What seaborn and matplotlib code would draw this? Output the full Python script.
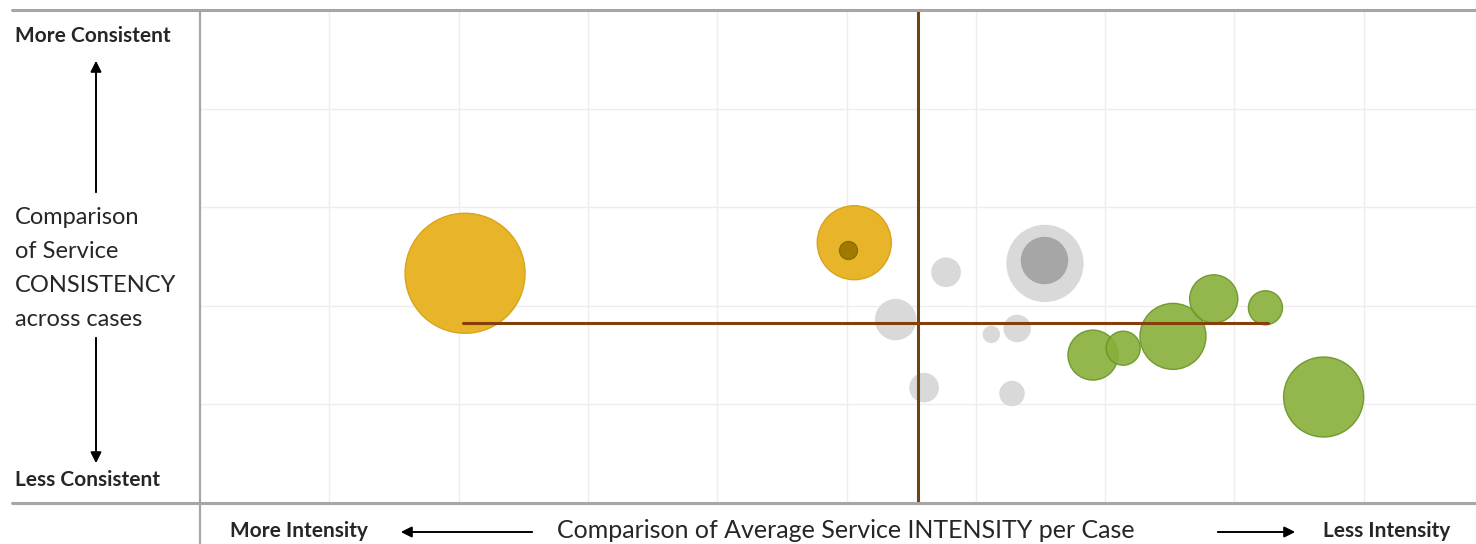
import pandas as pd
import matplotlib.pyplot as plt
import seaborn as sns
from matplotlib.lines import Line2D

# Bubble data (x = intensity, y = consistency, bubble = relative area)
gold_x = [2.05, 5.06]
gold_y = [2.33, 2.64]
gold_b = [36.0, 13.7]

inner_x = [5.01]
inner_y = [2.57]
inner_b = [0.8]

gray_x = [5.77, 5.38, 6.12, 6.32, 5.60, 6.28, 6.535]
gray_y = [2.34, 1.86, 1.71, 1.77, 1.17, 1.11, 2.43]
gray_b = [2.0, 4.0, 0.64, 1.7, 2.0, 1.45, 14.4]

darkgray_x = [6.527]
darkgray_y = [2.46]
darkgray_b = [5.3]

green_x = [6.906, 7.14, 7.525, 7.84, 8.24, 8.69]
green_y = [1.50, 1.57, 1.69, 2.07, 1.98, 1.075]
green_b = [6.25, 2.9, 10.9, 5.8, 2.9, 16.0]

avg_intensity = 5.553
avg_consistency = 1.826
avg_range = [2.034, 8.26]

y_title_lines = ["Comparison", "of Service", "CONSISTENCY", "across cases"]

W, H = 1476, 544

sns.set_theme(style="white")
plt.rcParams["font.family"] = ["Lato", "DejaVu Sans"]

fig = plt.figure(figsize=(W / 100, H / 100), dpi=100)
ax = fig.add_axes([200 / W, 41 / H, 1276 / W, 493 / H])

all_b = gold_b + inner_b + gray_b + darkgray_b + green_b
bmin, bmax = min(all_b), max(all_b)
k = 207.36  # value -> points^2


def bubbles(xs, ys, bs, color, edge, alpha, z):
    df = pd.DataFrame({"x": xs, "y": ys, "bubble": bs})
    sns.scatterplot(data=df, x="x", y="y", size="bubble",
                    sizes=(bmin * k, bmax * k), size_norm=(bmin, bmax),
                    color=color, edgecolor=edge, linewidth=1.0,
                    alpha=alpha, legend=False, ax=ax, zorder=z)


bubbles(gold_x, gold_y, gold_b, "#E8B52A", "#D8A41C", 1.0, 3)
bubbles(inner_x, inner_y, inner_b, "#A07A00", "#8E6B00", 1.0, 4)
bubbles(gray_x, gray_y, gray_b, "#D9D9D9", "#D9D9D9", 1.0, 3)
bubbles(darkgray_x, darkgray_y, darkgray_b, "#A6A6A6", "#A6A6A6", 1.0, 4)
bubbles(green_x, green_y, green_b, "#88B03A", "#6A9428", 0.9, 5)

# average lines
ax.axvline(avg_intensity, color="#6E4313", lw=2.2, zorder=6)
ax.plot(avg_range, [avg_consistency] * 2, color="#843F0A", lw=2.2, zorder=6)

ax.set_xlim(0, 1276 / 129.3)
ax.set_ylim(0, 5)
ax.set_xticks(range(1, 10))
ax.set_yticks(range(1, 5))
ax.set_xticklabels([])
ax.set_yticklabels([])
ax.tick_params(length=0)
ax.grid(True, color="#EDEDED", lw=1)
ax.set_xlabel("")
ax.set_ylabel("")
for s in ax.spines.values():
    s.set_visible(False)


def fx(px):
    return px / W


def fy(py):
    return 1 - py / H


# frame lines
frame = "#A6A6A6"
fig.add_artist(Line2D([fx(12), 1], [fy(10), fy(10)], color=frame, lw=2.2))
fig.add_artist(Line2D([fx(12), 1], [fy(503), fy(503)], color=frame, lw=2.2))
fig.add_artist(Line2D([fx(200), fx(200)], [fy(10), 0], color=frame, lw=1.6))

# left labels
small = 15
fig.text(fx(15), fy(36), "More Consistent", fontsize=small, fontweight="bold",
         va="center", ha="left")
fig.text(fx(15), fy(480), "Less Consistent", fontsize=small, fontweight="bold",
         va="center", ha="left")
for i, line in enumerate(y_title_lines):
    fig.text(fx(15), fy(224 + 34 * i), line, fontsize=17, va="baseline",
             ha="left")

# bottom labels
fig.text(fx(230), fy(531), "More Intensity", fontsize=small, fontweight="bold",
         va="center", ha="left")
fig.text(fx(1450), fy(531), "Less Intensity", fontsize=small, fontweight="bold",
         va="center", ha="right")
fig.text(fx(846), fy(531), "Comparison of Average Service INTENSITY per Case",
         fontsize=18, va="center", ha="center")

arrow = dict(arrowstyle="-|>", color="black", lw=1.4, mutation_scale=16)
for start, end in [((96, 195), (96, 58)), ((96, 335), (96, 466)),
                   ((535, 532), (398, 532)), ((1215, 532), (1298, 532))]:
    ax.annotate("", xy=(end[0], H - end[1]), xytext=(start[0], H - start[1]),
                xycoords="figure pixels", textcoords="figure pixels",
                arrowprops=arrow)

fig.savefig("out.png", dpi=100)
plt.close(fig)
